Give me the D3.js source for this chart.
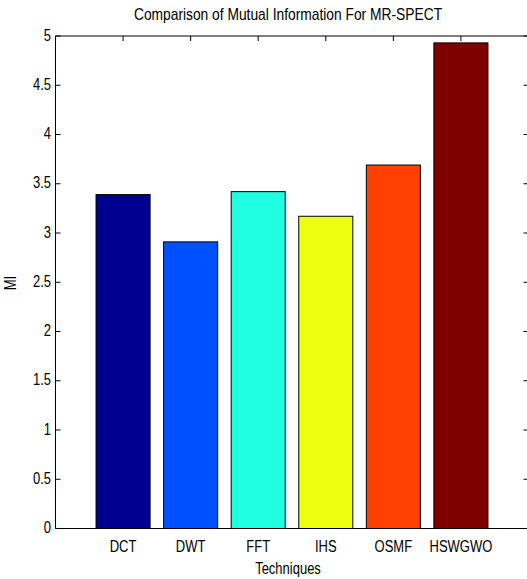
<!DOCTYPE html>
<html>
<head>
<meta charset="utf-8">
<script src="https://cdn.jsdelivr.net/npm/d3@7"></script>
<style>
  body { margin: 0; background: #fff; }
  svg { display: block; }
  text { font-family: "Liberation Sans", Arial, sans-serif; fill: #000; }
</style>
</head>
<body>
<svg id="chart" width="527" height="579"></svg>
<script>
// chart data
const techniques = ['DCT', 'DWT', 'FFT', 'IHS', 'OSMF', 'HSWGWO']
const miValues = [3.39, 2.91, 3.42, 3.17, 3.69, 4.93]
const barColors = ['#00008f', '#0050ff', '#20ffdf', '#efff10', '#ff4000', '#800000']
const yTicks = [0, 0.5, 1, 1.5, 2, 2.5, 3, 3.5, 4, 4.5, 5]

const width = 527, height = 579
const margin = { left: 55.5, right: 528.5, top: 36, bottom: 528.5 }
const stretch = 1.2   // text in the picture is a bit taller than normal

const svg = d3.select('#chart')

// x positions 1..6, limits 0..7 like a matlab bar plot
const x = d3.scaleLinear().domain([0, techniques.length + 1]).range([margin.left, margin.right])
const y = d3.scaleLinear().domain([0, 5]).range([margin.bottom, margin.top])
const barW = (x(1) - x(0)) * 0.8

const addText = (sel, tx, ty, str, anchor, size, rot) => {
  sel.append('text')
    .attr('transform', `translate(${tx},${ty})` + (rot ? ` rotate(${rot})` : '') + ` scale(1,${stretch})`)
    .attr('text-anchor', anchor)
    .style('font-size', size + 'px')
    .text(str)
}

// bars
svg.append('g').selectAll('rect')
  .data(miValues)
  .enter().append('rect')
  .attr('x', (d, i) => x(i + 1) - barW / 2)
  .attr('y', d => y(d))
  .attr('width', barW)
  .attr('height', d => y(0) - y(d))
  .attr('fill', (d, i) => barColors[i])
  .attr('stroke', '#000')
  .attr('stroke-width', 1)

// axes box (right edge is just past the picture)
const axisG = svg.append('g').attr('stroke', '#000').attr('fill', 'none')
axisG.append('path')
  .attr('d', `M${margin.left},${margin.bottom}V${margin.top}H${margin.right}V${margin.bottom}H${margin.left}`)
  .attr('stroke-width', 1)

// y ticks, inward on both sides
yTicks.forEach(t => {
  axisG.append('line').attr('x1', margin.left).attr('x2', margin.left + 5).attr('y1', y(t)).attr('y2', y(t))
  axisG.append('line').attr('x1', margin.right - 5).attr('x2', margin.right).attr('y1', y(t)).attr('y2', y(t))
  addText(svg, 51, y(t) + 4.5, String(t), 'end', 13)
})

// x ticks along the top (bottom ones are behind the bars)
techniques.forEach((name, i) => {
  axisG.append('line').attr('x1', x(i + 1)).attr('x2', x(i + 1)).attr('y1', margin.top).attr('y2', margin.top + 5)
  addText(svg, x(i + 1), 552, name, 'middle', 13)
})

// labels and title
addText(svg, 288, 20, 'Comparison of Mutual Information For MR-SPECT', 'middle', 13.8)
addText(svg, 288, 574, 'Techniques', 'middle', 13)
addText(svg, 16, 283, 'MI', 'middle', 13, -90)
</script>
</body>
</html>
